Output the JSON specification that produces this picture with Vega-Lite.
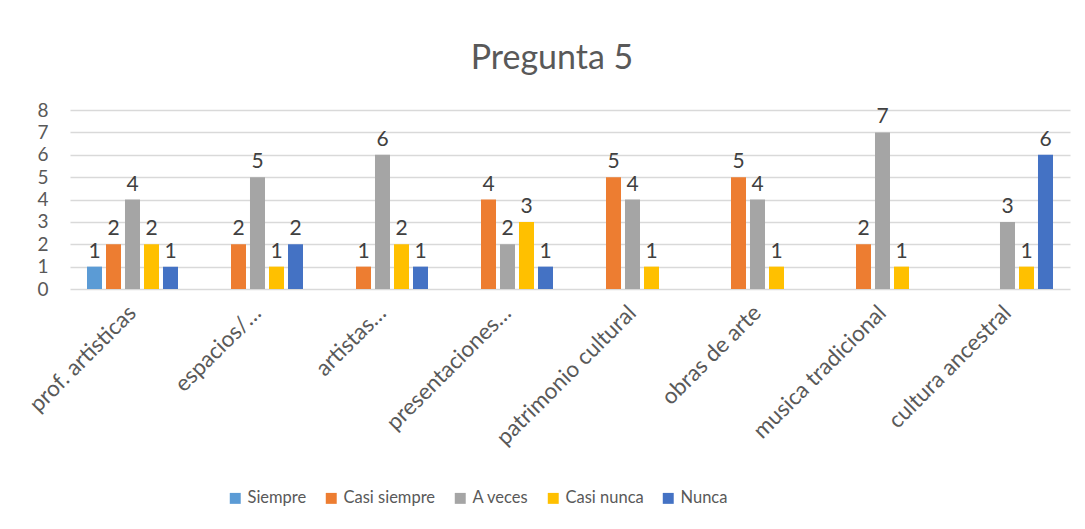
{
  "$schema": "https://vega.github.io/schema/vega-lite/v6.json",
  "width": 1000,
  "height": 179,
  "padding": {"left": 25, "top": 42, "right": 15, "bottom": 10},
  "background": "white",
  "title": {"text": "Pregunta 5", "fontSize": 34, "font": "Lato", "fontWeight": "normal", "color": "#595959", "offset": 25, "dx": -18},
  "config": {
    "font": "Lato",
    "view": {"stroke": null},
    "axis": {"labelColor": "#595959", "labelFont": "Lato"},
    "legend": {"labelColor": "#595959", "labelFont": "Lato"}
  },
  "data": {"values": [
    {"cat": "prof. artisticas", "serie": "Siempre", "v": 1},
    {"cat": "prof. artisticas", "serie": "Casi siempre", "v": 2},
    {"cat": "prof. artisticas", "serie": "A veces", "v": 4},
    {"cat": "prof. artisticas", "serie": "Casi nunca", "v": 2},
    {"cat": "prof. artisticas", "serie": "Nunca", "v": 1},
    {"cat": "espacios/…", "serie": "Casi siempre", "v": 2},
    {"cat": "espacios/…", "serie": "A veces", "v": 5},
    {"cat": "espacios/…", "serie": "Casi nunca", "v": 1},
    {"cat": "espacios/…", "serie": "Nunca", "v": 2},
    {"cat": "artistas…", "serie": "Casi siempre", "v": 1},
    {"cat": "artistas…", "serie": "A veces", "v": 6},
    {"cat": "artistas…", "serie": "Casi nunca", "v": 2},
    {"cat": "artistas…", "serie": "Nunca", "v": 1},
    {"cat": "presentaciones…", "serie": "Casi siempre", "v": 4},
    {"cat": "presentaciones…", "serie": "A veces", "v": 2},
    {"cat": "presentaciones…", "serie": "Casi nunca", "v": 3},
    {"cat": "presentaciones…", "serie": "Nunca", "v": 1},
    {"cat": "patrimonio cultural", "serie": "Casi siempre", "v": 5},
    {"cat": "patrimonio cultural", "serie": "A veces", "v": 4},
    {"cat": "patrimonio cultural", "serie": "Casi nunca", "v": 1},
    {"cat": "obras de arte", "serie": "Casi siempre", "v": 5},
    {"cat": "obras de arte", "serie": "A veces", "v": 4},
    {"cat": "obras de arte", "serie": "Casi nunca", "v": 1},
    {"cat": "musica tradicional", "serie": "Casi siempre", "v": 2},
    {"cat": "musica tradicional", "serie": "A veces", "v": 7},
    {"cat": "musica tradicional", "serie": "Casi nunca", "v": 1},
    {"cat": "cultura ancestral", "serie": "A veces", "v": 3},
    {"cat": "cultura ancestral", "serie": "Casi nunca", "v": 1},
    {"cat": "cultura ancestral", "serie": "Nunca", "v": 6}
  ]},
  "encoding": {
    "x": {
      "field": "cat", "type": "nominal", "sort": null,
      "scale": {"paddingInner": 0.272, "paddingOuter": 0.136},
      "axis": {"title": null, "labelAngle": -45, "labelAlign": "right", "labelBaseline": "middle", "labelFontSize": 22.5, "ticks": false, "domain": false, "labelPadding": 20, "labelLimit": 300, "labelOverlap": false}
    },
    "xOffset": {
      "field": "serie", "type": "nominal",
      "scale": {"domain": ["Siempre", "Casi siempre", "A veces", "Casi nunca", "Nunca"], "paddingInner": 0.21, "paddingOuter": 0}
    },
    "y": {
      "field": "v", "type": "quantitative",
      "scale": {"domain": [0, 8]},
      "axis": {"title": null, "values": [0,1,2,3,4,5,6,7,8], "grid": true, "gridColor": "#d9d9d9", "gridWidth": 1.5, "domain": false, "ticks": false, "labelFontSize": 19, "labelPadding": 22, "labelOverlap": false, "labelFlush": false}
    }
  },
  "layer": [
    {
      "mark": {"type": "bar"},
      "encoding": {
        "color": {
          "field": "serie", "type": "nominal",
          "scale": {"domain": ["Siempre", "Casi siempre", "A veces", "Casi nunca", "Nunca"], "range": ["#5B9BD5", "#ED7D31", "#A5A5A5", "#FFC000", "#4472C4"]},
          "legend": {"title": null, "orient": "none", "legendX": 157, "legendY": 380, "direction": "horizontal", "symbolType": "square", "symbolSize": 120, "symbolStrokeWidth": 0, "labelFontSize": 16.5, "columnPadding": 16, "labelOffset": 4, "symbolOpacity": 1}
        }
      }
    },
    {
      "mark": {"type": "text", "baseline": "bottom", "dy": -5, "fontSize": 21, "color": "#404040"},
      "encoding": {"text": {"field": "v", "type": "quantitative"}}
    }
  ]
}
